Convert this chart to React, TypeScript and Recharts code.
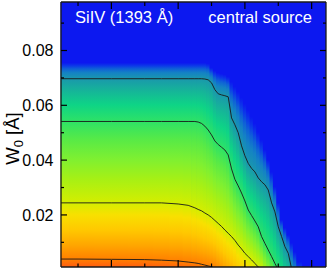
import React from 'react';
import { ComposedChart, Line, XAxis, YAxis, ReferenceArea } from 'recharts';

const FONT = '"Liberation Sans", Arial, Helvetica, sans-serif';

// axis ranges
const X_MIN = 0.49;
const X_MAX = 8.43;
const Y_MIN = 0.001;
const Y_MAX = 0.0977;

const xTicks = [1, 2, 3, 4, 5, 6, 7, 8];
const xMajorTicks = [2, 4, 6, 8];
const yTicks = [0.01, 0.02, 0.03, 0.04, 0.05, 0.06, 0.07, 0.08, 0.09];
const yLabelTicks = [0.02, 0.04, 0.06, 0.08];

const titleLeft = 'SiIV (1393 Å)';
const titleRight = 'central source';

// sample positions along x
const xs = [0.49, 1.0, 2.0, 3.0, 3.5, 4.0, 4.3, 4.5, 4.6, 4.7, 4.8, 4.9, 5.0, 5.1, 5.2, 5.3, 5.4, 5.5, 5.6, 5.7, 5.8, 5.9, 6.0, 6.1, 6.2, 6.3, 6.4, 6.5, 6.6, 6.7, 6.8, 6.9, 7.0, 7.1, 7.2, 7.3, 7.4, 7.5, 7.6, 7.8, 8.1, 8.43];

// edge of the coloured region (W0 where the field fades to blue)
const edgeE = [0.0755, 0.0755, 0.0755, 0.0755, 0.0755, 0.0755, 0.0755, 0.0755, 0.0755, 0.0755, 0.0755, 0.0752, 0.0737, 0.0726, 0.0719, 0.0715, 0.0712, 0.0704, 0.0686, 0.0668, 0.065, 0.0628, 0.0606, 0.0584, 0.0558, 0.0533, 0.0503, 0.0474, 0.0438, 0.0401, 0.0357, 0.0303, 0.0244, 0.0182, 0.0153, 0.0127, 0.0098, 0.0065, 0.0029, null, null, null];

// contour lines (W0 values)
const contourA = [0.0697, 0.0697, 0.0697, 0.0697, 0.0697, 0.0697, 0.0697, 0.0697, 0.0697, 0.0697, 0.0696, 0.0693, 0.0682, 0.0657, 0.0642, 0.0638, 0.0635, 0.0631, 0.0554, 0.0529, 0.05, 0.0452, 0.0416, 0.0388, 0.037, 0.0357, 0.0335, 0.0321, 0.031, 0.0291, 0.0244, 0.0211, 0.0157, 0.0121, 0.0084, 0.006, 0.0003, null, null, null, null, null];
const contourB = [0.0541, 0.0541, 0.0541, 0.0541, 0.0541, 0.0541, 0.0541, 0.0541, 0.0539, 0.0534, 0.0524, 0.051, 0.0492, 0.047, 0.0457, 0.0447, 0.0437, 0.0419, 0.0368, 0.033, 0.0306, 0.028, 0.0251, 0.0218, 0.0198, 0.0178, 0.0157, 0.0121, 0.0096, 0.0072, 0.0048, 0.0023, -0.0001, null, null, null, null, null, null, null, null, null];
const contourC = [0.0244, 0.0244, 0.0244, 0.0244, 0.0244, 0.024, 0.0235, 0.0226, 0.022, 0.0215, 0.0207, 0.02, 0.0191, 0.018, 0.0169, 0.0158, 0.0145, 0.0133, 0.0121, 0.0107, 0.009, 0.0076, 0.006, 0.0048, 0.0036, 0.0023, 0.001, -0.0001, null, null, null, null, null, null, null, null, null, null, null, null, null, null];
const contourD = [0.0039, 0.0039, 0.0038, 0.0037, 0.0035, 0.0032, 0.0028, 0.0025, 0.0023, 0.002, 0.0017, 0.0014, 0.0011, 0.0006, null, null, null, null, null, null, null, null, null, null, null, null, null, null, null, null, null, null, null, null, null, null, null, null, null, null, null, null];

// colour scale (value of W0 in the flat, left part of the map -> colour)
const colormap: [number, string][] = [
  [0.0755, '#0c18f0'],
  [0.0744, '#0c3ae8'],
  [0.0733, '#0f62d6'],
  [0.0719, '#1482c4'],
  [0.0697, '#1a98ac'],
  [0.0657, '#16b29a'],
  [0.0602, '#0ed486'],
  [0.0541, '#2ee266'],
  [0.0474, '#58ea46'],
  [0.0401, '#80f030'],
  [0.0328, '#a8f014'],
  [0.0244, '#d4ee00'],
  [0.02, '#f8e000'],
  [0.0145, '#ffc800'],
  [0.009, '#ffa600'],
  [0.0039, '#ff8000'],
  [0.001, '#ff5c10'],
];

const BLUE = '#0c18f0';

const lineData = xs.map((u, i) => ({
  u,
  A: contourA[i],
  B: contourB[i],
  C: contourC[i],
  D: contourD[i],
}));

type Stop = { w: number; c: string };

// per-column colour stops: the colour scale is warped so that it follows the contours
function buildColumns(): (Stop[] | null)[] {
  const levels = [edgeE, contourA, contourB, contourC, contourD];
  const left = levels.map((a) => a[0] as number);
  const segSlope = levels.map(() => 1);
  return xs.map((_, k) => {
    if (edgeE[k] == null) return null;
    const vals: number[] = [];
    levels.forEach((arr, i) => {
      const v = arr[k];
      if (i === 0) {
        vals.push(v as number);
        return;
      }
      if (v != null && levels[i - 1][k] != null) {
        segSlope[i] = (vals[i - 1] - v) / (left[i - 1] - left[i]);
        vals.push(v);
      } else if (v != null) {
        vals.push(v);
      } else {
        vals.push(vals[i - 1] - (left[i - 1] - left[i]) * segSlope[i]);
      }
    });
    const n = vals.length;
    const lastSlope = segSlope[n - 1];
    const map = (w0: number) => {
      for (let i = 0; i < n - 1; i++) {
        const a0 = left[i];
        const b0 = left[i + 1];
        if (w0 <= a0 && w0 >= b0) return vals[i + 1] + ((w0 - b0) * (vals[i] - vals[i + 1])) / (a0 - b0);
      }
      if (w0 > left[0]) return vals[0] + (w0 - left[0]);
      return vals[n - 1] - (left[n - 1] - w0) * lastSlope;
    };
    return colormap.map(([w0, c]) => ({ w: map(w0), c }));
  });
}

const columns = buildColumns();

function ColumnShape(props: any) {
  const { x, y, width, height, stops, id } = props;
  if (!stops || !(height > 0)) return <g />;
  const py = (w: number) => y + ((Y_MAX - w) / (Y_MAX - Y_MIN)) * height;
  const y1 = py(stops[0].w);
  const y2 = py(stops[stops.length - 1].w);
  const gid = `colgrad-${id}`;
  return (
    <g>
      <defs>
        <linearGradient id={gid} gradientUnits="userSpaceOnUse" x1={0} y1={y1} x2={0} y2={y2}>
          {stops.map((s: Stop, i: number) => (
            <stop key={i} offset={(py(s.w) - y1) / (y2 - y1)} stopColor={s.c} />
          ))}
        </linearGradient>
      </defs>
      <rect x={x - 0.4} y={y} width={width + 0.8} height={height} fill={`url(#${gid})`} />
    </g>
  );
}

const isIn = (arr: number[], v: number) => arr.some((t) => Math.abs(t - v) < 1e-9);

const TICK_COLOR = '#000';

function LeftTick(props: any) {
  const { x, y, payload } = props;
  const v = payload.value;
  const major = isIn(yLabelTicks, v);
  return (
    <g>
      <line x1={x} y1={y} x2={x + (major ? 6 : 3)} y2={y} stroke={TICK_COLOR} strokeWidth={1.2} />
      {major && (
        <text x={x - 7.5} y={y} dy="0.36em" textAnchor="end" fontSize={16} fontFamily={FONT} fill="#000">
          {v.toFixed(2)}
        </text>
      )}
    </g>
  );
}

function RightTick(props: any) {
  const { x, y, payload } = props;
  const major = isIn(yLabelTicks, payload.value);
  return <line x1={x} y1={y} x2={x - (major ? 6 : 3)} y2={y} stroke={TICK_COLOR} strokeWidth={1.2} />;
}

function BottomTick(props: any) {
  const { x, y, payload } = props;
  const major = isIn(xMajorTicks, payload.value);
  return <line x1={x} y1={y} x2={x} y2={y - (major ? 7 : 3.5)} stroke={TICK_COLOR} strokeWidth={1.2} />;
}

function TopTick(props: any) {
  const { x, y, payload } = props;
  const major = isIn(xMajorTicks, payload.value);
  return <line x1={x} y1={y} x2={x} y2={y + (major ? 7 : 4)} stroke={TICK_COLOR} strokeWidth={1.2} />;
}

const MARGIN = { top: 1, right: 0, bottom: 0, left: 0 };

function renderAxes(show: boolean) {
  const axisLine = show ? { stroke: '#1a1a1a', strokeWidth: 1.3 } : false;
  return [
    <XAxis
      key="xb"
      dataKey="u"
      type="number"
      domain={[X_MIN, X_MAX]}
      allowDataOverflow
      ticks={xTicks}
      interval={0}
      height={1}
      tickSize={0}
      tickMargin={0}
      axisLine={axisLine}
      tickLine={false}
      tick={show ? <BottomTick /> : false}
    />,
    <XAxis
      key="xt"
      xAxisId="top"
      orientation="top"
      dataKey="u"
      type="number"
      domain={[X_MIN, X_MAX]}
      allowDataOverflow
      ticks={xTicks}
      interval={0}
      height={1}
      tickSize={0}
      tickMargin={0}
      axisLine={axisLine}
      tickLine={false}
      tick={show ? <TopTick /> : false}
    />,
    <YAxis
      key="yl"
      type="number"
      domain={[Y_MIN, Y_MAX]}
      allowDataOverflow
      ticks={yTicks}
      interval={0}
      width={61}
      tickSize={0}
      tickMargin={0}
      axisLine={axisLine}
      tickLine={false}
      tick={show ? <LeftTick /> : false}
    />,
    <YAxis
      key="yr"
      yAxisId="right"
      orientation="right"
      type="number"
      domain={[Y_MIN, Y_MAX]}
      allowDataOverflow
      ticks={yTicks}
      interval={0}
      width={1}
      tickSize={0}
      tickMargin={0}
      axisLine={axisLine}
      tickLine={false}
      tick={show ? <RightTick /> : false}
    />,
  ];
}

export default function App() {
  return (
    <div style={{ position: 'absolute', left: 0, top: 0, width: 327, height: 268 }}>
      <ComposedChart width={327} height={268} data={lineData} margin={MARGIN}>
        <ReferenceArea x1={X_MIN} x2={X_MAX} y1={Y_MIN} y2={Y_MAX} fill={BLUE} fillOpacity={1} stroke="none" ifOverflow="visible" />
        {columns.map((stops, k) => {
          if (!stops) return null;
          const x1 = k === 0 ? X_MIN : (xs[k - 1] + xs[k]) / 2;
          const x2 = k === xs.length - 1 ? X_MAX : (xs[k] + xs[k + 1]) / 2;
          return (
            <ReferenceArea
              key={`col-${k}`}
              x1={x1}
              x2={x2}
              y1={Y_MIN}
              y2={Y_MAX}
              ifOverflow="visible"
              shape={(p: any) => <ColumnShape {...p} stops={stops} id={k} />}
            />
          );
        })}
        {renderAxes(false)}
      </ComposedChart>
      <div style={{ position: 'absolute', left: 0, top: 0 }}>
        <ComposedChart width={327} height={268} data={lineData} margin={MARGIN}>
          {(['A', 'B', 'C', 'D'] as const).map((key) => (
            <Line
              key={key}
              dataKey={key}
              type="linear"
              stroke="#1a1a1a"
              strokeOpacity={0.9}
              strokeWidth={1}
              dot={false}
              activeDot={false}
              isAnimationActive={false}
              connectNulls={false}
            />
          ))}
          {renderAxes(true)}
        </ComposedChart>
      </div>
      <svg
        width={327}
        height={268}
        style={{ position: 'absolute', left: 0, top: 0, pointerEvents: 'none' }}
      >
        <text x={75} y={23} fill="#fff" fontSize={16.5} fontFamily={FONT}>
          {titleLeft}
        </text>
        <text x={312} y={23} fill="#fff" fontSize={16.5} fontFamily={FONT} textAnchor="end">
          {titleRight}
        </text>
        <text transform="translate(18.5,138.5) rotate(-90)" textAnchor="middle" fontSize={18.5} fontFamily={FONT} fill="#000">
          W<tspan dy={4} fontSize={13}>0</tspan>
          <tspan dy={-4}> [Å]</tspan>
        </text>
      </svg>
    </div>
  );
}
